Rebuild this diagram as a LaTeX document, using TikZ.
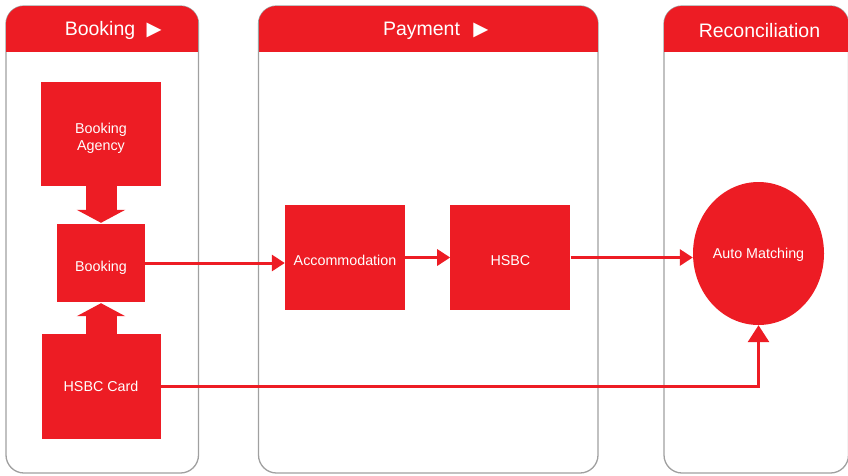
\documentclass[tikz,border=0pt]{standalone}
\usepackage{fontspec}
\setmainfont{Liberation Sans}
\newfontfamily\symbolfont{DejaVu Sans}
\usetikzlibrary{arrows.meta,positioning,shapes.geometric}
\definecolor{hsbcred}{RGB}{237,28,36}
\definecolor{lanegray}{RGB}{160,160,160}
\tikzset{
	lane/.style={rectangle,rounded corners=18pt,draw=lanegray,line width=1.3pt,fill=white,inner sep=0pt,minimum height=467pt,
		postaction={path picture={\fill[hsbcred,sharp corners] (path picture bounding box.north west) rectangle ([yshift=-45.5pt]path picture bounding box.north east);}}},
	lanetitle/.style={text=white,font=\fontsize{19.5}{22}\selectfont,inner sep=0pt},
	box/.style={rectangle,fill=hsbcred,text=white,font=\fontsize{14.3}{17}\selectfont,align=center,inner sep=0pt,text height=16pt,text depth=0pt},
	link/.style={draw=hsbcred,line width=3pt,-{Triangle[length=13pt,width=16pt]}},
	blockarrow/.style={draw=hsbcred,line width=31pt,-{Triangle[length=13pt,width=48pt]},shorten >=1pt}
}

\begin{document}
\begin{tikzpicture}[x=1pt,y=-1pt]
		\useasboundingbox (0,0) rectangle (848,475);
		% lanes
		\node[lane,minimum width=192.5pt] (booklane) at (102.25,239.5) {};
		\node[lane,minimum width=339.5pt] (paylane) at (428.25,239.5) {};
		\node[lane,minimum width=184.5pt] (reclane) at (756.25,239.5) {};
		
		\node[lanetitle] (booktitle) at (100,30.5) {Booking};
		\node[lanetitle,right=11pt of booktitle] (bookplay) {\symbolfont ▶};
		\node[lanetitle] (paytitle) at (421.5,30.5) {Payment};
		\node[lanetitle,right=13pt of paytitle] (payplay) {\symbolfont ▶};
		\node[lanetitle] (rectitle) at (759.5,30.5) {Reconciliation};
		
		% steps
		\node[box,minimum width=120pt,minimum height=104pt,text height=32pt] (agency) at (101,134) {Booking\\Agency};
		\node[box,minimum width=88pt,minimum height=78pt] (booking) at (101,263) {Booking};
		\node[box,minimum width=119pt,minimum height=105pt,text height=10.5pt] (card) at (101,386.5) {HSBC Card};
		\node[box,minimum width=120pt,minimum height=105pt] (accom) at (345,257.5) {Accommodation};
		\node[box,minimum width=120pt,minimum height=105pt,right=45pt of accom] (hsbc) {HSBC};
		\node[box,ellipse,minimum width=131pt,minimum height=143pt,text height=10.5pt] (match) at (758.5,253.5) {Auto Matching};
		
		\draw[blockarrow] (agency) -- (booking);
		\draw[blockarrow] (card) -- (booking);
		\draw[link] (booking) -- (accom.west |- booking);
		\draw[link] (accom) -- (hsbc);
		\draw[link] (hsbc.east) -- (hsbc.east -| match.west);
		\draw[link,-{Triangle[length=17pt,width=21pt]}] (card.east) -| (match.south);
\end{tikzpicture}
\end{document}
